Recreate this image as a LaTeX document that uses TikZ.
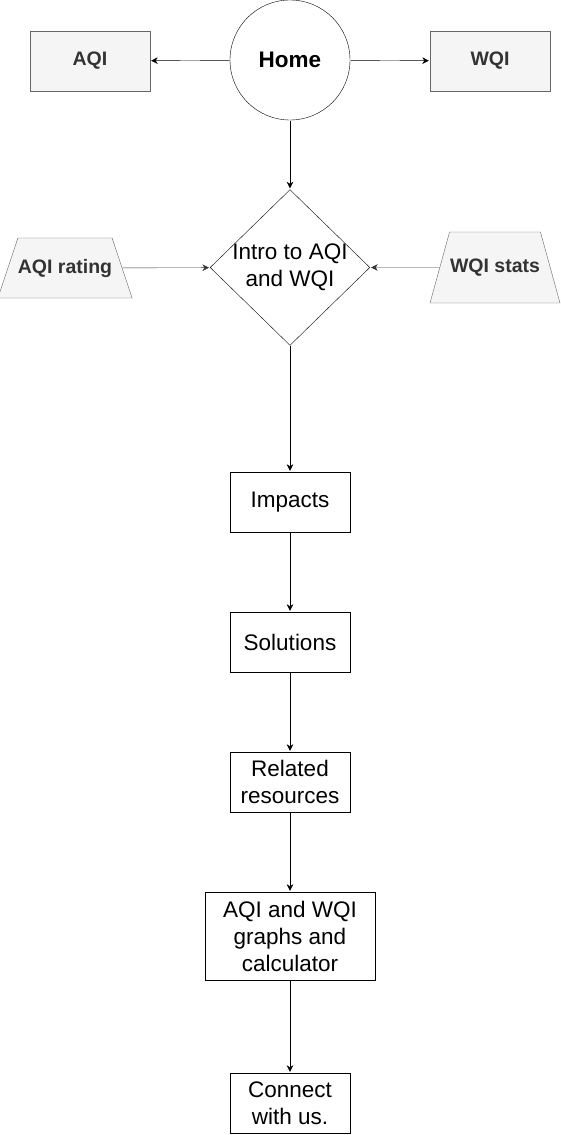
\documentclass[tikz,border=0pt]{standalone}
\usepackage{fontspec}
\setmainfont{Liberation Sans}
\usetikzlibrary{shapes.geometric,arrows.meta}

\definecolor{sidefill}{HTML}{F5F5F5}
\definecolor{sideline}{HTML}{666666}
\definecolor{sidetext}{HTML}{333333}

\newcommand{\boxfont}{\fontsize{22.5}{27}\selectfont}
\newcommand{\sidefont}{\fontsize{19.5}{23}\selectfont\bfseries}

\tikzstyle{block} = [rectangle, draw, fill=white, minimum width=120pt, minimum height=60pt, inner sep=0pt, align=center, font=\boxfont]
\tikzstyle{hub} = [circle, draw, minimum size=120pt, inner sep=0pt, font=\boxfont\bfseries]
\tikzstyle{decision} = [diamond, draw, minimum width=160pt, minimum height=155pt, inner sep=-1.5pt, align=center, font=\boxfont]
\tikzstyle{side} = [rectangle, draw=sideline, fill=sidefill, text=sidetext, minimum width=120pt, minimum height=60pt, font=\sidefont]
\tikzstyle{sidetrap} = [trapezium, trapezium stretches body=true, draw=sideline, fill=sidefill, text=sidetext, inner xsep=0pt, text height=14pt, text depth=4pt, minimum width=130pt, font=\sidefont]

\begin{document}
\begin{tikzpicture}[x=1pt,y=-1pt]
        \tikzset{line width=1pt, >={Stealth[length=8pt,width=8pt,inset=2.5pt]}}
        \useasboundingbox (0,0) rectangle (561,1135);
        % top row
        \node (home) at (290,60) [hub] {Home};
        \node (aqi) at (90,61) [side] {AQI};
        \node (wqi) at (490,61) [side] {WQI};
        % intro with its two inputs
        \node (intro) at (290,267.5) [decision] {Intro to AQI\\and WQI};
        \node (arating) at (65,268) [sidetrap, inner ysep=21pt, trapezium angle=71.6] {AQI rating};
        \node (wstats) at (495,267.5) [sidetrap, inner ysep=26.5pt, trapezium angle=74.6] {WQI stats};
        % page chain
        \node (impacts) at (290,502) [block] {Impacts};
        \node (solutions) at (290,642) [block] {Solutions};
        \node (resources) at (290,782) [block] {Related\\resources};
        \node (graphs) at (290,936) [block, minimum width=170pt, minimum height=88pt] {AQI and WQI\\graphs and\\calculator};
        \node (connect) at (290,1103) [block] {Connect\\with us.};

        \draw[->] (home) -- (aqi);
        \draw[->] (home) -- (wqi);
        \draw[->] (home) -- (intro);
        \draw[->, draw=sidetext] (arating) -- (intro);
        \draw[->, draw=sidetext] (wstats) -- (intro);
        \draw[->] (intro) -- (impacts);
        \draw[->] (impacts) -- (solutions);
        \draw[->] (solutions) -- (resources);
        \draw[->] (resources) -- (graphs);
        \draw[->] (graphs) -- (connect);
    \end{tikzpicture}
\end{document}
